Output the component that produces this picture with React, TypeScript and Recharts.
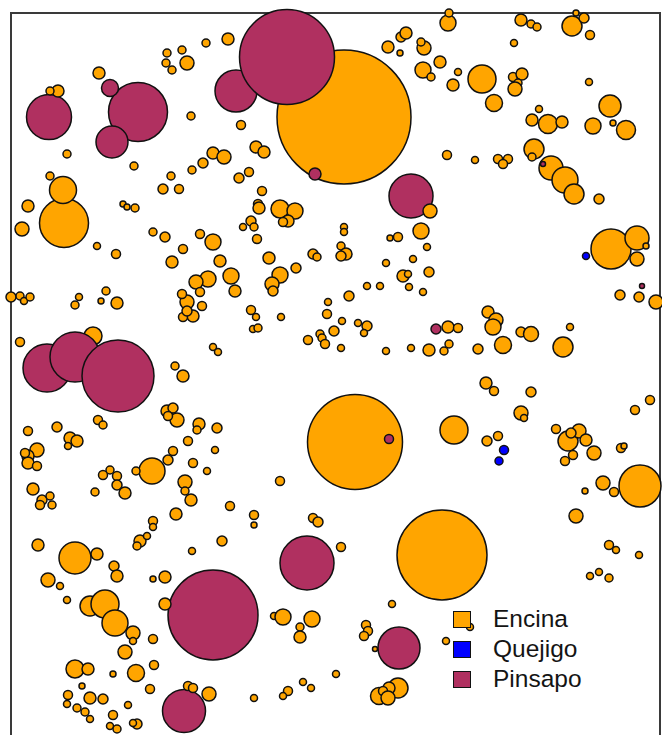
import { ScatterChart, Scatter, XAxis, YAxis, ZAxis, ReferenceArea } from 'recharts'

// stem maps: [x, y, crown diameter], in plot units
const encina: [number, number, number][] = [
  [344, 117, 134], [355, 442, 95], [442, 555, 90], [64, 223, 49], [611, 249, 40], [640, 486, 42],
  [482, 79, 28], [454, 430, 28], [63, 190, 27], [152, 471, 26], [75, 558, 32], [90, 606, 20],
  [105, 604, 28], [115, 623, 26],
  [99, 73, 12], [206, 43, 8], [167, 53, 8], [182, 50, 8], [166, 63, 8], [172, 70, 8], [187, 63, 14],
  [191, 116, 8], [67, 154, 8], [134, 166, 8], [213, 153, 12], [203, 163, 10], [192, 170, 8],
  [171, 176, 8], [50, 176, 8],
  [228, 39, 12], [241, 125, 9], [256, 147, 12], [264, 152, 12], [224, 157, 14], [249, 172, 9],
  [239, 178, 10], [388, 47, 12], [401, 37, 10], [406, 33, 12], [400, 53, 6], [424, 48, 14],
  [421, 42, 8], [423, 70, 16], [431, 77, 8], [440, 62, 12],
  [448, 23, 16], [449, 13, 8], [521, 20, 12], [531, 24, 8], [537, 27, 8], [572, 26, 20], [584, 18, 10],
  [576, 13, 6], [590, 35, 9], [514, 43, 7], [458, 72, 7], [453, 85, 12], [513, 77, 9], [522, 74, 12],
  [518, 83, 8], [515, 89, 14], [494, 103, 17], [589, 82, 7], [610, 106, 22], [539, 109, 7],
  [532, 120, 12], [548, 124, 19], [562, 122, 12], [593, 126, 16], [613, 123, 6], [626, 130, 19],
  [447, 155, 9], [475, 160, 7], [498, 159, 9], [508, 159, 9], [503, 164, 9], [534, 149, 20],
  [532, 157, 8], [551, 168, 24], [565, 180, 26], [574, 194, 20], [599, 199, 10],
  [637, 238, 24], [637, 259, 14], [646, 246, 6], [620, 295, 10], [639, 297, 10], [656, 302, 14],
  [488, 312, 12], [496, 320, 14], [493, 327, 16], [448, 327, 12], [458, 328, 9], [521, 332, 10],
  [531, 334, 15], [570, 327, 7], [503, 345, 17], [563, 347, 20], [478, 349, 10], [449, 344, 8],
  [444, 351, 8],
  [262, 191, 9], [258, 204, 9], [259, 208, 12], [280, 209, 18], [295, 211, 16], [288, 221, 12],
  [283, 222, 9], [251, 221, 10], [254, 227, 8], [243, 227, 7], [257, 239, 9], [344, 227, 7],
  [344, 232, 7], [341, 246, 8], [346, 254, 12], [341, 256, 10], [421, 231, 16], [390, 238, 6],
  [398, 237, 9], [427, 247, 7], [269, 258, 12], [313, 254, 10], [317, 257, 8], [220, 261, 12],
  [231, 276, 16], [235, 291, 12], [280, 275, 16], [272, 284, 14], [273, 291, 10], [296, 268, 10],
  [386, 263, 7], [413, 259, 7], [403, 276, 12], [408, 274, 7], [409, 287, 7], [429, 272, 10],
  [423, 292, 7], [367, 286, 7], [380, 286, 7], [349, 296, 10], [328, 302, 7], [327, 314, 9],
  [342, 321, 7], [251, 310, 9], [256, 317, 7], [281, 317, 7], [253, 329, 7], [258, 328, 8],
  [358, 323, 7], [367, 326, 10], [364, 333, 7], [334, 331, 10], [320, 334, 8], [322, 338, 8],
  [325, 344, 9], [308, 340, 9], [341, 348, 7], [386, 351, 7], [411, 348, 7], [429, 350, 12],
  [28, 206, 12], [22, 229, 14], [97, 246, 7], [116, 254, 9], [123, 204, 6], [127, 207, 6],
  [135, 208, 8], [163, 189, 10], [179, 189, 9], [153, 232, 8], [165, 237, 10], [183, 249, 9],
  [172, 262, 12], [200, 234, 9], [213, 242, 16], [208, 279, 16], [196, 282, 14], [200, 292, 9],
  [187, 302, 14], [182, 294, 9], [202, 306, 9], [193, 316, 12], [183, 317, 9], [187, 311, 10],
  [11, 297, 10], [20, 296, 8], [24, 301, 7], [30, 297, 8], [79, 297, 7], [75, 305, 8], [106, 291, 8],
  [101, 301, 6], [117, 303, 12], [20, 342, 9], [93, 336, 18], [213, 347, 7], [218, 352, 7],
  [175, 366, 8],
  [183, 376, 12], [28, 431, 9], [57, 427, 10], [98, 420, 9], [103, 425, 8], [167, 411, 12],
  [173, 408, 10], [177, 420, 14], [168, 416, 9], [70, 438, 12], [77, 441, 12], [68, 446, 7],
  [199, 424, 12], [197, 430, 8], [217, 428, 10], [188, 441, 9], [215, 450, 7], [37, 450, 14],
  [28, 456, 12], [28, 463, 12], [37, 466, 9], [25, 453, 9], [173, 451, 9], [168, 460, 10],
  [193, 463, 9], [207, 471, 7], [136, 471, 8], [103, 475, 9], [110, 470, 8], [117, 476, 9],
  [117, 485, 10], [125, 493, 12], [95, 492, 8], [185, 482, 14], [185, 491, 8], [191, 500, 12],
  [33, 489, 12], [42, 500, 10], [50, 496, 8], [40, 505, 9], [52, 505, 8], [176, 514, 12],
  [153, 521, 9], [153, 527, 7], [38, 545, 12], [140, 541, 12], [147, 536, 7], [137, 546, 8],
  [192, 551, 7], [222, 541, 10],
  [97, 554, 12], [114, 566, 10], [117, 576, 12], [48, 580, 14], [60, 586, 7], [153, 579, 6],
  [165, 577, 12], [67, 600, 7], [133, 633, 14], [133, 641, 7], [153, 639, 9], [125, 652, 14],
  [154, 665, 9], [75, 669, 18], [88, 669, 12], [113, 674, 6], [136, 673, 17], [82, 686, 6],
  [68, 695, 9], [90, 698, 12], [103, 699, 10], [150, 689, 9], [128, 705, 7], [67, 704, 7],
  [77, 708, 8], [85, 712, 8], [90, 719, 7], [113, 715, 9], [110, 726, 7], [117, 729, 8],
  [137, 724, 10], [133, 723, 7],
  [280, 481, 9], [230, 506, 9], [254, 515, 9], [254, 525, 6], [313, 518, 9], [318, 522, 10],
  [341, 547, 9],
  [486, 383, 12], [494, 391, 9], [531, 392, 10], [521, 413, 14], [524, 418, 7], [487, 441, 10],
  [498, 436, 9], [556, 429, 9], [568, 441, 20], [579, 431, 14], [571, 433, 10], [586, 440, 12],
  [594, 453, 14], [573, 455, 9], [565, 461, 9], [621, 448, 9], [624, 446, 6], [635, 410, 9],
  [650, 400, 9], [603, 483, 14], [614, 492, 9], [585, 491, 6], [576, 516, 14], [609, 545, 9],
  [616, 550, 7],
  [274, 616, 7], [283, 617, 16], [312, 619, 16], [300, 627, 8], [300, 637, 12], [392, 604, 7],
  [366, 625, 9], [368, 631, 9], [364, 636, 9], [375, 649, 5], [336, 674, 7], [303, 682, 7],
  [311, 688, 7], [288, 691, 9], [283, 696, 7], [254, 698, 7], [379, 696, 17], [398, 688, 20],
  [389, 688, 12], [383, 691, 9], [388, 698, 14],
  [639, 555, 7], [590, 576, 7], [599, 572, 7], [609, 578, 8], [470, 627, 7], [446, 641, 7],
]

// encinas plotted after the pinsapos (they sit on top of them)
const encinaTop: [number, number, number][] = [
  [58, 91, 12], [50, 91, 8], [430, 211, 14], [165, 604, 12], [209, 694, 14], [188, 686, 9],
  [193, 688, 9],
]

const quejigo: [number, number, number][] = [
  [586, 256, 7], [504, 450, 9], [499, 461, 8],
]

const pinsapo: [number, number, number][] = [
  [236, 91, 42], [287, 57, 95], [138, 112, 59], [49, 117, 45], [112, 142, 32], [110, 88, 17],
  [315, 174, 12], [411, 196, 44], [436, 329, 10], [642, 286, 5], [543, 164, 5], [47, 368, 48],
  [75, 357, 50], [118, 376, 72], [389, 439, 9], [213, 615, 90], [184, 711, 43], [307, 563, 54],
  [399, 648, 42],
]

const species = ['Encina', 'Quejigo', 'Pinsapo']
const colors = ['#FFA500', '#0000FF', '#B03060']

// z is d^2 so the symbol area (pi/4 * d^2) comes out of a linear ZAxis
const rows = (pts: [number, number, number][]) => pts.map(([x, y, d]) => ({ x, y, z: d * d }))

function SpeciesLegend() {
  return (
    <div
      style={{
        position: 'absolute',
        left: 453,
        top: 604,
        fontFamily: '"Liberation Sans", Arial, sans-serif',
        fontSize: 24.5,
        color: '#141414',
      }}
    >
      {species.map((s, i) => (
        <div key={s} style={{ display: 'flex', alignItems: 'center', height: 30 }}>
          <span
            style={{
              display: 'inline-block',
              width: 18,
              height: 17,
              background: colors[i],
              border: '1.5px solid #111',
              boxSizing: 'border-box',
              marginRight: 22,
            }}
          />
          {s}
        </div>
      ))}
    </div>
  )
}

export default function App() {
  const stroke = '#111'
  return (
    <div
      style={{
        position: 'fixed',
        left: 0,
        top: 0,
        width: 662,
        height: 735,
        overflow: 'hidden',
        background: '#fff',
      }}
    >
      <ScatterChart width={662} height={760} margin={{ top: 13, right: 2, bottom: 0, left: 11 }}>
        <XAxis type="number" dataKey="x" domain={[11, 660]} hide />
        <YAxis type="number" dataKey="y" domain={[13, 760]} reversed hide />
        <ZAxis type="number" dataKey="z" domain={[0, 20000]} range={[0, (20000 * Math.PI) / 4]} />
        <ReferenceArea x1={11} x2={660} y1={13} y2={760} fill="none" stroke="#3a3a3a" strokeWidth={2} />
        <Scatter data={rows(encina)} fill={colors[0]} stroke={stroke} strokeWidth={1.5} isAnimationActive={false} />
        <Scatter data={rows(quejigo)} fill={colors[1]} stroke={stroke} strokeWidth={1.5} isAnimationActive={false} />
        <Scatter data={rows(pinsapo)} fill={colors[2]} stroke={stroke} strokeWidth={1.5} isAnimationActive={false} />
        <Scatter data={rows(encinaTop)} fill={colors[0]} stroke={stroke} strokeWidth={1.5} isAnimationActive={false} />
      </ScatterChart>
      <SpeciesLegend />
    </div>
  )
}
